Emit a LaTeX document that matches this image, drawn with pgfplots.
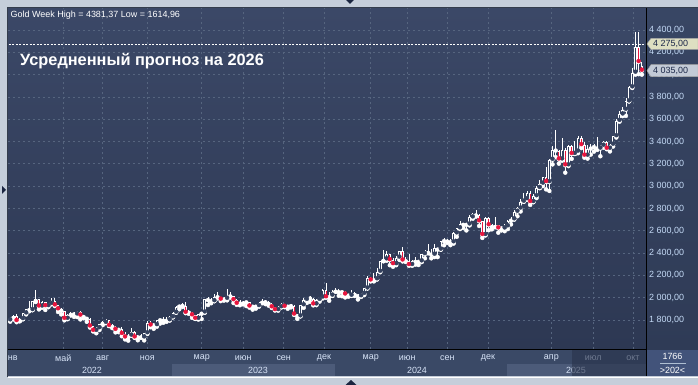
\documentclass[border=0pt]{standalone}
\usepackage{fontspec}
\setmainfont{Liberation Sans}
\usepackage{pgfplots}
\pgfplotsset{compat=1.18}
\usepackage{pgfplotstable}

\definecolor{outer}{HTML}{C5CEDA}
\definecolor{bgtop}{HTML}{3B4867}
\definecolor{bgbot}{HTML}{2D3853}
\definecolor{gridc}{HTML}{56657F}
\definecolor{panel}{HTML}{3A4966}
\definecolor{panelhi}{HTML}{4C5B79}
\definecolor{boxc}{HTML}{42537A}
\definecolor{ticktext}{HTML}{C4DAF6}
\definecolor{labtext}{HTML}{D6E2F6}
\definecolor{candred}{HTML}{E8163E}
\definecolor{hollowc}{HTML}{35425F}
\definecolor{khaki}{HTML}{DEDFC2}
\definecolor{greybox}{HTML}{C3CAD6}
\definecolor{navytext}{HTML}{1C2848}
\definecolor{overlayc}{HTML}{28324A}
\definecolor{rpaneltop}{HTML}{384664}
\definecolor{rpanelbot}{HTML}{2F3B56}
\definecolor{tri}{HTML}{1A2540}

\pgfplotstableread{
w o h l c
0 1829 1831 1782 1797
1 1797 1828 1785 1817
2 1817 1848 1805 1835
3 1835 1853 1780 1791
4 1791 1815 1788 1808
5 1808 1865 1806 1859
6 1859 1902 1850 1898
7 1898 1974 1878 1889
8 1889 1972 1888 1970
9 1970 2070 1961 1988
10 1988 1990 1895 1921
11 1921 1966 1910 1958
12 1958 1960 1890 1925
13 1925 1950 1915 1945
14 1945 1998 1940 1974
15 1974 1998 1925 1931
16 1931 1935 1872 1896
17 1896 1910 1850 1883
18 1883 1885 1797 1811
19 1811 1850 1807 1846
20 1846 1870 1840 1853
21 1853 1875 1828 1850
22 1850 1880 1826 1871
23 1871 1879 1805 1840
24 1840 1848 1816 1827
25 1827 1830 1784 1811
26 1811 1815 1732 1742
27 1742 1745 1697 1703
28 1703 1739 1681 1727
29 1727 1767 1711 1766
30 1766 1795 1754 1775
31 1775 1808 1771 1802
32 1802 1803 1745 1747
33 1747 1765 1727 1738
34 1738 1745 1689 1712
35 1712 1729 1691 1716
36 1716 1735 1654 1675
37 1675 1688 1626 1644
38 1644 1675 1615 1660
39 1660 1729 1660 1695
40 1695 1700 1640 1644
41 1644 1668 1618 1657
42 1657 1675 1639 1644
43 1644 1681 1617 1681
44 1681 1787 1675 1771
45 1771 1787 1735 1751
46 1751 1759 1721 1754
47 1754 1804 1740 1797
48 1797 1810 1768 1797
49 1797 1824 1775 1793
50 1793 1826 1784 1798
51 1798 1833 1795 1824
52 1824 1870 1824 1865
53 1865 1922 1866 1920
54 1920 1935 1896 1926
55 1926 1949 1917 1928
56 1928 1959 1861 1865
57 1865 1890 1855 1865
58 1865 1870 1819 1842
59 1842 1843 1809 1811
60 1811 1858 1804 1856
61 1856 1870 1809 1868
62 1868 1990 1865 1989
63 1989 2010 1934 1978
64 1978 1995 1950 1969
65 1969 2032 1969 2007
66 2007 2049 1993 2004
67 2004 2010 1969 1983
68 1983 2003 1974 1990
69 1990 2080 1976 2016
70 2016 2048 2000 2011
71 2011 2015 1952 1978
72 1978 1985 1936 1946
73 1946 1983 1932 1948
74 1948 1971 1940 1961
75 1961 1971 1925 1958
76 1958 1960 1911 1921
77 1921 1925 1893 1919
78 1919 1935 1902 1925
79 1925 1963 1920 1955
80 1955 1985 1950 1962
81 1962 1975 1942 1959
82 1959 1970 1929 1943
83 1943 1948 1908 1914
84 1914 1917 1885 1889
85 1889 1926 1884 1915
86 1915 1953 1912 1940
87 1940 1945 1915 1919
88 1919 1933 1901 1924
89 1924 1947 1913 1925
90 1925 1935 1846 1849
91 1849 1853 1810 1833
92 1833 1933 1833 1932
93 1932 1997 1909 1981
94 1981 2009 1953 2006
95 2006 2011 1962 1992
96 1992 1993 1931 1940
97 1940 1988 1933 1981
98 1981 2008 1965 2002
99 2002 2076 1993 2072
100 2072 2135 2000 2004
101 2004 2047 1973 2019
102 2019 2070 2016 2053
103 2053 2088 2053 2063
104 2063 2078 2017 2049
105 2049 2062 2013 2049
106 2049 2057 2002 2029
107 2029 2036 2009 2018
108 2018 2065 2016 2039
109 2039 2049 2015 2024
110 2024 2033 1984 2013
111 2013 2041 2007 2035
112 2035 2088 2024 2083
113 2083 2195 2083 2179
114 2179 2185 2146 2155
115 2155 2222 2146 2165
116 2165 2265 2163 2233
117 2233 2330 2228 2330
118 2330 2431 2326 2344
119 2344 2417 2331 2392
120 2392 2395 2291 2337
121 2337 2353 2277 2301
122 2301 2378 2291 2360
123 2360 2422 2338 2415
124 2415 2450 2325 2334
125 2334 2364 2320 2327
126 2327 2388 2287 2293
127 2293 2339 2286 2333
128 2333 2368 2296 2321
129 2321 2339 2293 2326
130 2326 2392 2319 2391
131 2391 2424 2353 2411
132 2411 2484 2398 2400
133 2400 2432 2353 2386
134 2386 2477 2364 2443
135 2443 2448 2364 2431
136 2431 2509 2431 2507
137 2507 2531 2470 2512
138 2512 2527 2491 2503
139 2503 2529 2471 2497
140 2497 2586 2485 2577
141 2577 2625 2546 2622
142 2622 2685 2615 2658
143 2658 2672 2625 2653
144 2653 2664 2603 2657
145 2657 2740 2648 2720
146 2720 2758 2708 2747
147 2747 2790 2727 2737
148 2737 2750 2643 2685
149 2685 2685 2536 2563
150 2563 2721 2558 2715
151 2715 2721 2605 2650
152 2650 2657 2613 2633
153 2633 2726 2632 2648
154 2648 2652 2583 2622
155 2622 2638 2603 2621
156 2621 2665 2596 2640
157 2640 2697 2615 2690
158 2690 2726 2657 2703
159 2703 2786 2700 2771
160 2771 2817 2730 2800
161 2800 2886 2773 2861
162 2861 2943 2860 2883
163 2883 2955 2877 2936
164 2936 2956 2832 2858
165 2858 2930 2856 2910
166 2910 3005 2893 2984
167 2984 3057 2982 3023
168 3023 3086 3000 3085
169 3085 3168 2971 3037
170 3037 3245 2957 3237
171 3237 3358 3195 3327
172 3327 3500 3260 3319
173 3319 3325 3202 3240
174 3240 3435 3228 3325
175 3325 3345 3121 3187
176 3187 3366 3180 3357
177 3357 3365 3245 3289
178 3289 3403 3288 3310
179 3310 3446 3295 3433
180 3433 3452 3341 3368
181 3368 3397 3255 3274
182 3274 3365 3247 3337
183 3337 3374 3283 3355
184 3355 3377 3310 3350
185 3350 3439 3325 3337
186 3337 3369 3268 3363
187 3363 3409 3345 3398
188 3398 3404 3331 3336
189 3336 3379 3311 3372
190 3372 3453 3355 3448
191 3448 3600 3436 3586
192 3586 3675 3578 3643
193 3643 3707 3628 3685
194 3685 3791 3630 3760
195 3760 3897 3760 3886
196 3886 4060 3880 4018
197 4018 4379 4000 4251
198 4251 4381 4004 4113
199 4080 4110 4000 4035
}\gold

\begin{document}
\begin{tikzpicture}
% ---- frame and panels ----
\begin{scope}[x=1bp,y=1bp]
  \fill[outer] (0,0) rectangle (698,385);
  \shade[top color=rpaneltop, bottom color=rpanelbot] (646,35) rectangle (698,377);
  \fill[panel] (7.5,9) rectangle (646,35);
  \fill[panelhi] (172,9) rectangle (335,21);
  \fill[panelhi] (507,9) rectangle (646,21);
  \fill[boxc] (646,9) rectangle (698,35);
\end{scope}

\begin{axis}[
  at={(8bp,35.5bp)}, anchor=south west,
  scale only axis, width=638bp, height=341.5bp,
  xmin=0.31, xmax=200.31, ymin=1535.4, ymax=4597.3,
  axis background/.style={top color=bgtop, bottom color=bgbot},
  axis line style={draw=none},
  major tick length=0pt,
  grid=major,
  major grid style={draw=gridc, line width=0.75bp, dash pattern=on 2bp off 3bp},
  ytick={1800,2000,...,4400},
  yticklabels={{1 800,00},{2 000,00},{2 200,00},{2 400,00},{2 600,00},{2 800,00},{3 000,00},{3 200,00},{3 400,00},{3 600,00},{3 800,00},{4 000,00},{4 200,00},{4 400,00}},
  yticklabel pos=right,
  yticklabel style={font=\fontsize{9}{10}\selectfont, text=ticktext, anchor=west, inner sep=0pt, xshift=3bp},
  xtick={17.65,30.0,43.98,61.03,74.08,86.74,99.37,114.01,125.49,138.03,150.78,170.63,183.79,196.24},
  xticklabels={май,авг,ноя,мар,июн,сен,дек,мар,июн,сен,дек,апр,июл,окт},
  xticklabel style={font=\fontsize{9}{10}\selectfont, text=labtext, anchor=center, inner sep=0pt, yshift=-8.5bp},
]
% wicks
\addplot[white, only marks, mark=none, error bars/.cd, y dir=plus, y explicit, error mark=none,
  error bar style={color=white, line width=0.75bp}]
  table[x=w, y=l, y error expr={\thisrow{h}-\thisrow{l}}] {\gold};
% bodies (white outline)
\addplot[white, only marks, mark=none, error bars/.cd, y dir=plus, y explicit, error mark=none,
  error bar style={color=white, line width=2.6bp}]
  table[x=w, y expr={min(\thisrow{o},\thisrow{c})}, y error expr={max(abs(\thisrow{c}-\thisrow{o}),9)}] {\gold};
% up candles: hollow interior
\addplot[hollowc, only marks, mark=none, error bars/.cd, y dir=plus, y explicit, error mark=none,
  error bar style={color=hollowc, line width=0.8bp}]
  table[x=w, y expr={((\thisrow{c}-\thisrow{o})>18) ? (\thisrow{o}+9) : nan}, y error expr={\thisrow{c}-\thisrow{o}-18}] {\gold};
% down candles: red interior
\addplot[candred, only marks, mark=none, error bars/.cd, y dir=plus, y explicit, error mark=none,
  error bar style={color=candred, line width=1.0bp}]
  table[x=w, y expr={((\thisrow{o}-\thisrow{c})>18) ? (\thisrow{c}+9) : nan}, y error expr={\thisrow{o}-\thisrow{c}-18}] {\gold};
% level line
\addplot[draw=white, line width=0.7bp, dash pattern=on 2bp off 1.5bp] coordinates {(-5,4275) (205,4275)};
\coordinate (b1) at (axis cs:200.31,4275);
\coordinate (b2) at (axis cs:200.31,4035);
\end{axis}

\begin{scope}[x=1bp,y=1bp]
  % bottom-axis extra labels
  \node[font=\fontsize{9}{10}\selectfont, text=labtext, inner sep=0pt] at (12.7,27) {нв};
  \node[font=\fontsize{9}{10}\selectfont, text=labtext, inner sep=0pt] at (92,15) {2022};
  \node[font=\fontsize{9}{10}\selectfont, text=labtext, inner sep=0pt] at (258,15) {2023};
  \node[font=\fontsize{9}{10}\selectfont, text=labtext, inner sep=0pt] at (417,15) {2024};
  \node[font=\fontsize{9}{10}\selectfont, text=labtext, inner sep=0pt] at (576,15) {2025};
  % dim overlay on the bottom axis
  \fill[overlayc, opacity=0.6] (571.7,9) rectangle (646,34.5);
  % separators
  \draw[black, line width=1bp] (8,35) -- (646.5,35);
  \draw[black, line width=1bp] (646.5,9) -- (646.5,377);
  \draw[color=gridc!60!black, line width=0.8bp] (7.5,8.5) -- (7.5,377.5) -- (698,377.5);
  \draw[white, line width=0.8bp] (7.5,8) -- (698,8);
  % corner box
  \node[font=\fontsize{9}{10}\selectfont, text=white, inner sep=0pt] at (672.5,28.3) {1766};
  \draw[color=ticktext!70!gray, line width=0.6bp] (660,21.5) -- (686,21.5);
  \node[font=\fontsize{9}{10}\selectfont, text=white, inner sep=0pt] at (672.5,15) {>202<};
  % headers
  \node[anchor=west, font=\fontsize{9}{10}\selectfont, text=white, inner sep=0pt] at (10.5,370) {Gold Week High = 4381,37 Low = 1614,96};
  \node[anchor=west, font=\bfseries\fontsize{16.4}{18}\selectfont, text=white, inner sep=0pt] at (20,323.5) {Усредненный прогноз на 2026};
  % triangles in frame
  \fill[tri] (2,199) -- (6,195) -- (2,191) -- cycle;
  \fill[tri] (346,385) -- (354,385) -- (350,381) -- cycle;
  \fill[tri] (345.5,0) -- (356.5,0) -- (351,5) -- cycle;
\end{scope}
% price boxes
\filldraw[fill=khaki, draw=gray!70, line width=0.5bp] (b1) ++(1bp,0) -- ++(4bp,5.5bp) -- ++(47bp,0) -- ++(0,-11bp) -- ++(-47bp,0) -- cycle;
\node[anchor=west, font=\fontsize{9}{10}\selectfont, text=navytext, inner sep=0pt] at ([xshift=7bp]b1) {4 275,00};
\filldraw[fill=greybox, draw=gray!70, line width=0.5bp] (b2) ++(1bp,0) -- ++(4bp,6bp) -- ++(47bp,0) -- ++(0,-12bp) -- ++(-47bp,0) -- cycle;
\node[anchor=west, font=\fontsize{9}{10}\selectfont, text=navytext, inner sep=0pt] at ([xshift=7bp]b2) {4 035,00};
\pgfresetboundingbox
\path[use as bounding box] (0,0) rectangle (698bp,385bp);
\end{tikzpicture}
\end{document}
